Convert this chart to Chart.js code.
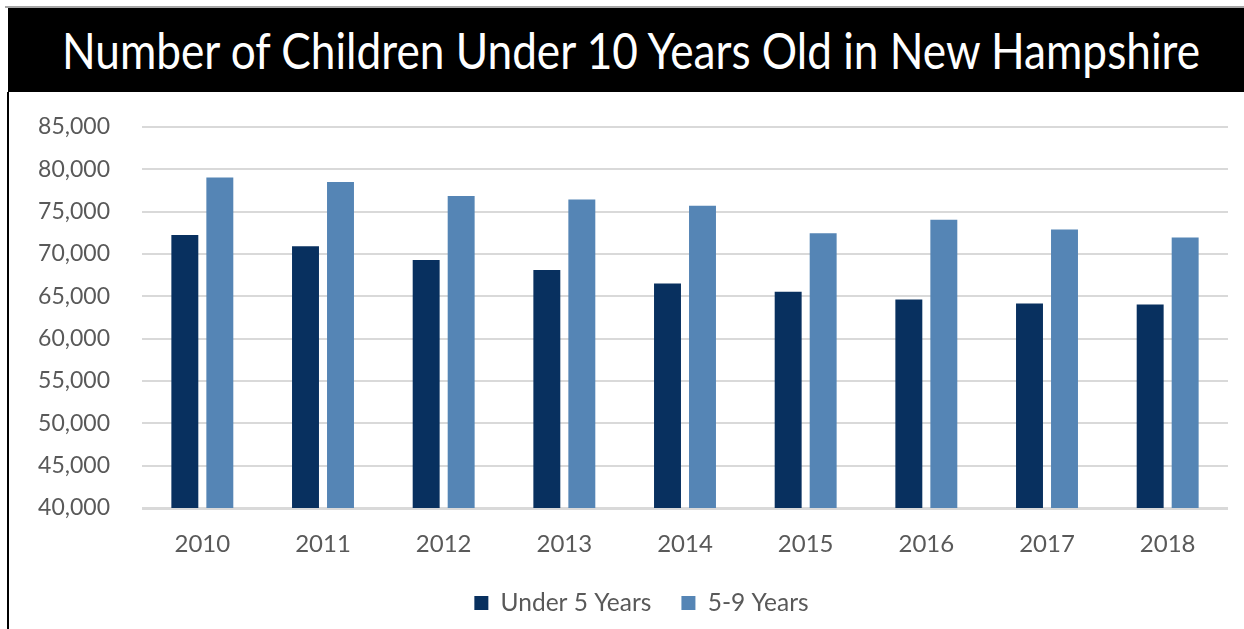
<!DOCTYPE html>
<html>
<head>
<meta charset="utf-8">
<script src="https://cdn.jsdelivr.net/npm/chart.js@4/dist/chart.umd.min.js"></script>
<style>
  html, body { margin: 0; padding: 0; background: #fff; width: 1244px; height: 629px; overflow: hidden; }
  #topline { position: absolute; left: 5px; top: 6px; width: 1239px; height: 2px; background: #a6a6a6; }
  #title { position: absolute; left: 8px; top: 8px; width: 1236px; height: 84px; background: #000; overflow: hidden; }
  #title span { position: absolute; left: 50%; top: 0; line-height: 84px; white-space: nowrap; color: #fff;
    font-family: Lato, "Open Sans", sans-serif; font-size: 51px; transform-origin: 0 50%; }
  #leftline { position: absolute; left: 7px; top: 92px; width: 2px; height: 537px; background: #000; }
  #wrap { position: absolute; left: 10px; top: 92px; width: 1234px; height: 537px; }
</style>
</head>
<body>
<div id="topline"></div>
<div id="title"><span id="titleText">Number of Children Under 10 Years Old in New Hampshire</span></div>
<div id="leftline"></div>
<div id="wrap"><canvas id="c"></canvas></div>
<script>
// ---- data ----
const categories = ['2010', '2011', '2012', '2013', '2014', '2015', '2016', '2017', '2018'];
const under5 = [72250, 70930, 69300, 68100, 66530, 65530, 64630, 64160, 64040];
const age5to9 = [79050, 78500, 76850, 76450, 75700, 72440, 74040, 72900, 71960];
const seriesNames = ['Under 5 Years', '5-9 Years'];
const yMin = 40000;
const yMax = 85000;
const yStep = 5000;

// fit title width
(function () {
  const s = document.getElementById('titleText');
  const target = 1138;
  const w = s.getBoundingClientRect().width;
  const k = target / w;
  s.style.transform = 'translateX(' + (-target / 2 + 5) + 'px) scaleX(' + k + ')';
})();

const textColor = '#595959';
const font = 'Lato, "Open Sans", sans-serif';

// nudge the legend so it is centred like the original (not over the full canvas)
const legendShift = {
  id: 'legendShift',
  afterLayout(chart) {
    const lg = chart.legend;
    if (lg) { lg.left += 22.5; lg.right += 22.5; }
  }
};

new Chart(document.getElementById('c'), {
  type: 'bar',
  data: {
    labels: categories,
    datasets: [
      { label: seriesNames[0], data: under5, backgroundColor: '#08305f', borderWidth: 0,
        categoryPercentage: 0.58, barPercentage: 0.77 },
      { label: seriesNames[1], data: age5to9, backgroundColor: '#5585b5', borderWidth: 0,
        categoryPercentage: 0.58, barPercentage: 0.77 }
    ]
  },
  plugins: [legendShift],
  options: {
    responsive: true,
    maintainAspectRatio: false,
    animation: false,
    layout: { padding: { left: 0, right: 16, top: 35, bottom: 3.75 } },
    plugins: {
      title: { display: false },
      tooltip: { enabled: false },
      legend: {
        position: 'bottom',
        labels: {
          color: textColor,
          font: { family: font, size: 24.5 },
          boxWidth: 14, boxHeight: 14,
          padding: 30
        }
      }
    },
    scales: {
      x: {
        afterFit: (s) => { s.height = 52.75; s.paddingLeft = 0; s.paddingRight = 0; },
        grid: { display: false, drawTicks: false },
        border: { display: false },
        ticks: { color: textColor, font: { family: font, size: 24 }, padding: 22 }
      },
      y: {
        min: yMin, max: yMax,
        afterFit: (s) => { s.width = 132; s.paddingTop = 0; s.paddingBottom = 0; },
        grid: {
          drawTicks: false,
          color: '#d9d9d9',
          lineWidth: (ctx) => (ctx.tick && ctx.tick.value === yMin ? 3 : 2)
        },
        border: { display: false },
        ticks: {
          stepSize: yStep,
          color: textColor,
          font: { family: font, size: 23 },
          padding: 32,
          callback: (v) => v.toLocaleString('en-US')
        }
      }
    }
  }
});
</script>
</body>
</html>
